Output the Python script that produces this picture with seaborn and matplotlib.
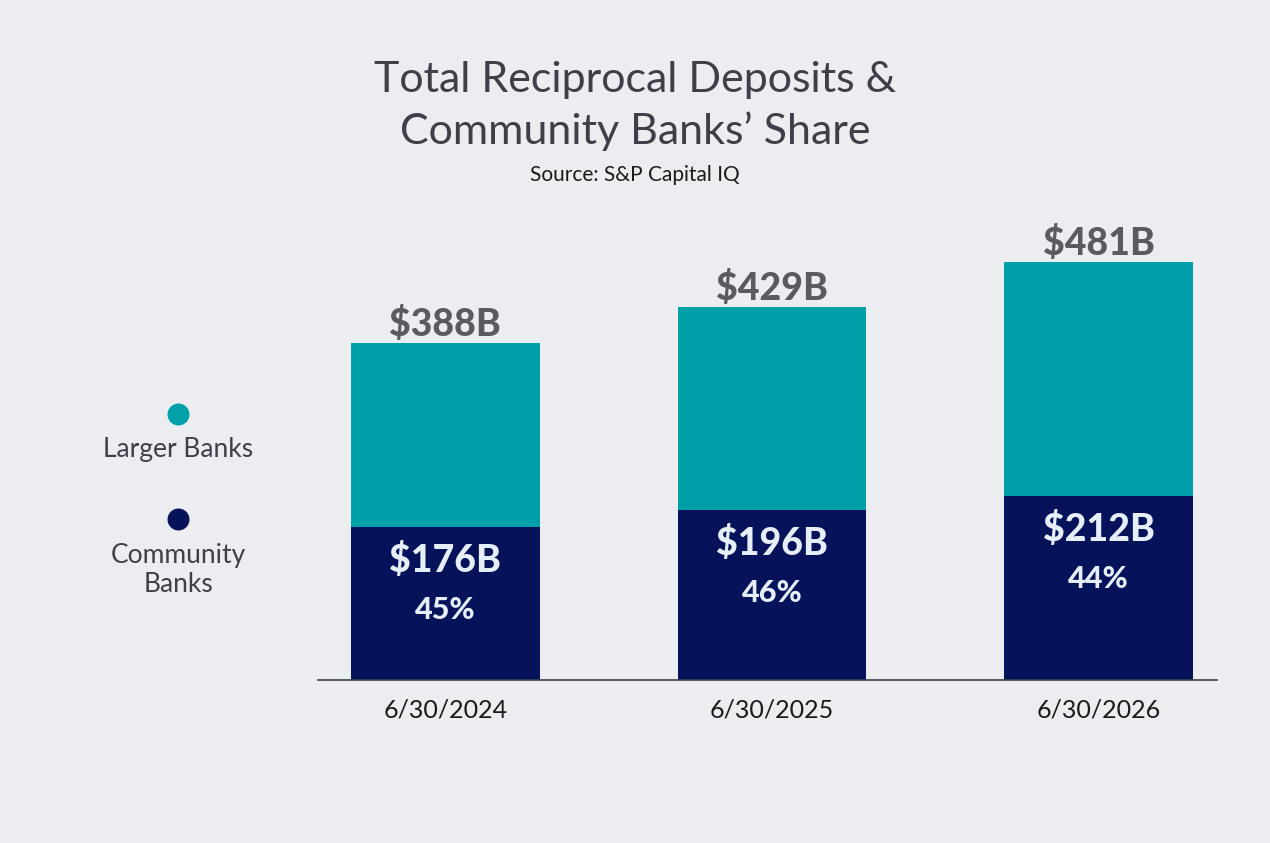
import matplotlib
matplotlib.use("Agg")
import matplotlib.pyplot as plt
import pandas as pd
import seaborn as sns

# Data (billions of dollars)
dates = ["6/30/2024", "6/30/2025", "6/30/2026"]
total_deposits = [388, 429, 481]
community_deposits = [176, 196, 212]
community_share = [45, 46, 44]

BG = "#ECEDF1"
TEAL = "#00A0AA"
NAVY = "#06135A"
TITLE_COL = "#3D4048"
TOTAL_COL = "#5B5B5F"
INNER_COL = "#E6EEF8"

sns.set_theme(style="white")
plt.rcParams["font.family"] = ["Lato", "DejaVu Sans"]

df = pd.DataFrame({"date": dates, "total": total_deposits,
                   "community": community_deposits, "share": community_share})

fig = plt.figure(figsize=(12.7, 8.43), dpi=100, facecolor=BG)
ax = fig.add_axes([318 / 1270, 163 / 843, 899 / 1270, 434.3 / 843])
ax.set_facecolor(BG)

# Stacked bars: total (larger banks on top) then community banks over it
sns.barplot(data=df, x="date", y="total", color=TEAL, width=0.578,
            saturation=1, linewidth=0, ax=ax)
sns.barplot(data=df, x="date", y="community", color=NAVY, width=0.578,
            saturation=1, linewidth=0, ax=ax)

ax.set_xlim(-0.39, 2.362)
ax.set_ylim(0, 500)
ax.set_xlabel("")
ax.set_ylabel("")
ax.set_yticks([])
for side in ["top", "right", "left"]:
    ax.spines[side].set_visible(False)
ax.spines["bottom"].set_color(TITLE_COL)
ax.spines["bottom"].set_linewidth(1.2)
ax.tick_params(axis="x", length=0, pad=13, labelsize=18, labelcolor="#1A1A1A")

# Value labels
for i, row in df.iterrows():
    ax.annotate(f"${row['total']}B", (i, row["total"]), xytext=(0, 5),
                textcoords="offset points", ha="center", va="baseline",
                fontsize=27, fontweight="black", color=TOTAL_COL)
    ax.annotate(f"${row['community']}B", (i, row["community"]), xytext=(0, -24),
                textcoords="offset points", ha="center", va="center",
                fontsize=27, fontweight="black", color=INNER_COL)
    ax.annotate(f"{row['share']}%", (i, row["community"]), xytext=(0, -60),
                textcoords="offset points", ha="center", va="center",
                fontsize=22, fontweight="black", color=INNER_COL)

# Title and source
fig.text(0.5, 1 - 80 / 843, "Total Reciprocal Deposits &", ha="center", va="center",
         fontsize=31, color=TITLE_COL)
fig.text(0.5, 1 - 131 / 843, "Community Banks\u2019 Share", ha="center", va="center",
         fontsize=31, color=TITLE_COL)
fig.text(0.5, 1 - 175 / 843, "Source: S&P Capital IQ", ha="center", va="center",
         fontsize=15, color="#1A1A1A")

# Custom legend: dot above label
leg = fig.add_axes([0, 0, 1, 1])
leg.set_xlim(0, 1)
leg.set_ylim(0, 1)
leg.axis("off")
leg.patch.set_alpha(0)
leg.scatter([178 / 1270], [1 - 414 / 843], s=250, color=TEAL, linewidths=0)
leg.scatter([178 / 1270], [1 - 519 / 843], s=250, color=NAVY, linewidths=0)
fig.text(178 / 1270, 1 - 450 / 843, "Larger Banks", ha="center", va="center",
         fontsize=19, color=TITLE_COL)
fig.text(178 / 1270, 1 - 570 / 843, "Community\nBanks", ha="center", va="center",
         fontsize=19, color=TITLE_COL, linespacing=1.15)

fig.savefig("out.png", dpi=100, facecolor=BG)
